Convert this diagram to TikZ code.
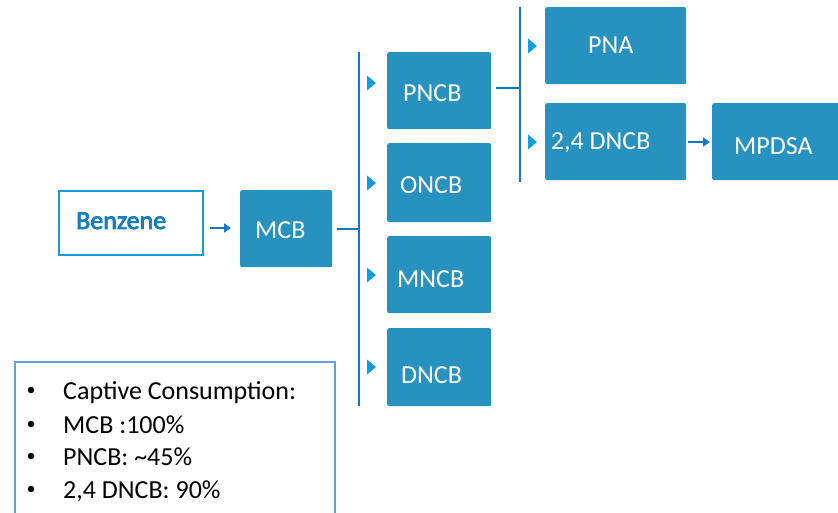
\documentclass[tikz,border=0pt]{standalone}
\usepackage{fontspec}
\setmainfont{Carlito}
\newfontfamily\benzfont[FakeBold=3]{Carlito}
\usetikzlibrary{arrows.meta}
\definecolor{boxfill}{RGB}{39,145,192}
\definecolor{lineblue}{RGB}{20,120,195}
\definecolor{triblue}{RGB}{20,155,220}
\definecolor{benzborder}{RGB}{26,155,215}
\definecolor{benztext}{RGB}{20,125,190}
\definecolor{legborder}{RGB}{100,160,215}
\tikzset{
  stepbox/.style={fill=boxfill, rounded corners=2pt, inner sep=0pt, anchor=north west},
  boxtext/.style={anchor=base west, inner sep=0pt, text=white, font=\fontsize{26}{31}\selectfont},
  legtext/.style={anchor=base west, inner sep=0pt, text=black, font=\fontsize{26}{31}\selectfont},
  legbullet/.style={circle, fill=black, inner sep=0pt, minimum size=6.5pt},
  conn/.style={draw=lineblue, line width=1.6pt},
  tri/.style={fill=triblue},
  arr/.style={draw=lineblue, line width=1.6pt, -{Triangle[length=7pt,width=9pt]}},
}
\begin{document}
\begin{tikzpicture}[x=1pt,y=-1pt]
\clip (0,0) rectangle (838,513);
\useasboundingbox (0,0) rectangle (838,513);
% Benzene
\node[draw=benzborder, line width=2pt, minimum width=144pt, minimum height=64pt, inner sep=0pt, anchor=north west] (benz) at (58,190) {};
\node[anchor=base west, inner sep=0pt, text=benztext, font=\fontsize{26}{31}\benzfont] (tbenz) at (76,229) {Benzene};
% MCB
\node[stepbox, minimum width=92pt, minimum height=77pt] (mcb) at (240,190) {};
\node[boxtext] (tmcb) at (255,239) {MCB};
% first column
\node[stepbox, minimum width=104pt, minimum height=77pt] (pncb) at (387,52) {};
\node[boxtext] (tpncb) at (403,101.7) {PNCB};
\node[stepbox, minimum width=104pt, minimum height=79pt] (oncb) at (387,143) {};
\node[boxtext] (toncb) at (400,193.3) {ONCB};
\node[stepbox, minimum width=104pt, minimum height=77pt] (mncb) at (387,236) {};
\node[boxtext] (tmncb) at (397,287.3) {MNCB};
\node[stepbox, minimum width=104pt, minimum height=78pt] (dncb) at (387,328) {};
\node[boxtext] (tdncb) at (401,383) {DNCB};
% second column
\node[stepbox, minimum width=141pt, minimum height=77pt] (pna) at (545,7) {};
\node[boxtext] (tpna) at (588,54) {PNA};
\node[stepbox, minimum width=141pt, minimum height=77pt] (dncb24) at (545,103) {};
\node[boxtext] (tdncb24) at (550.7,149.3) {2,4 DNCB};
\node[stepbox, minimum width=130pt, minimum height=77pt] (mpdsa) at (712,103) {};
\node[boxtext] (tmpdsa) at (734,155) {MPDSA};
% arrows
\draw[arr, shorten <=6pt, shorten >=9pt] (benz.east |- 0,228) -- (mcb.west |- 0,228);
\draw[arr, shorten <=2pt, shorten >=2pt] (dncb24.east |- 0,142) -- (mpdsa.west |- 0,142);
% bar 1
\coordinate (b1top) at (359,52);
\coordinate (b1bot) at (359,406);
\coordinate (b1mid) at (359,229);
\draw[conn] (b1top) -- (b1bot);
\draw[conn, shorten <=5pt] (mcb.east |- b1mid) -- (b1mid);
% bar 2
\coordinate (b2top) at (520,7);
\coordinate (b2bot) at (520,182);
\coordinate (b2mid) at (520,88);
\draw[conn] (b2top) -- (b2bot);
\draw[conn, shorten <=5pt] (pncb.east |- b2mid) -- (b2mid);
% triangles
\foreach \yy in {83,183,275,367} {
  \fill[tri] (367,\yy-7.5) -- (376,\yy) -- (367,\yy+7.5) -- cycle;
}
\foreach \yy in {46,142} {
  \fill[tri] (528,\yy-7.5) -- (537,\yy) -- (528,\yy+7.5) -- cycle;
}
% legend
\draw[draw=legborder, line width=2pt] (15,530) -- (15,362) -- (335,362) -- (335,530);
\node[legbullet] (bl1) at (31,390) {};
\node[legbullet] (bl2) at (31,424) {};
\node[legbullet] (bl3) at (31,456) {};
\node[legbullet] (bl4) at (31,489) {};
\node[legtext] (lg1) at (63,399) {Captive Consumption:};
\node[legtext] (lg2) at (63,433) {MCB :100\%};
\node[legtext] (lg3) at (63,465) {PNCB: \textasciitilde45\%};
\node[legtext] (lg4) at (63,498) {2,4 DNCB: 90\%};
\end{tikzpicture}
\end{document}
